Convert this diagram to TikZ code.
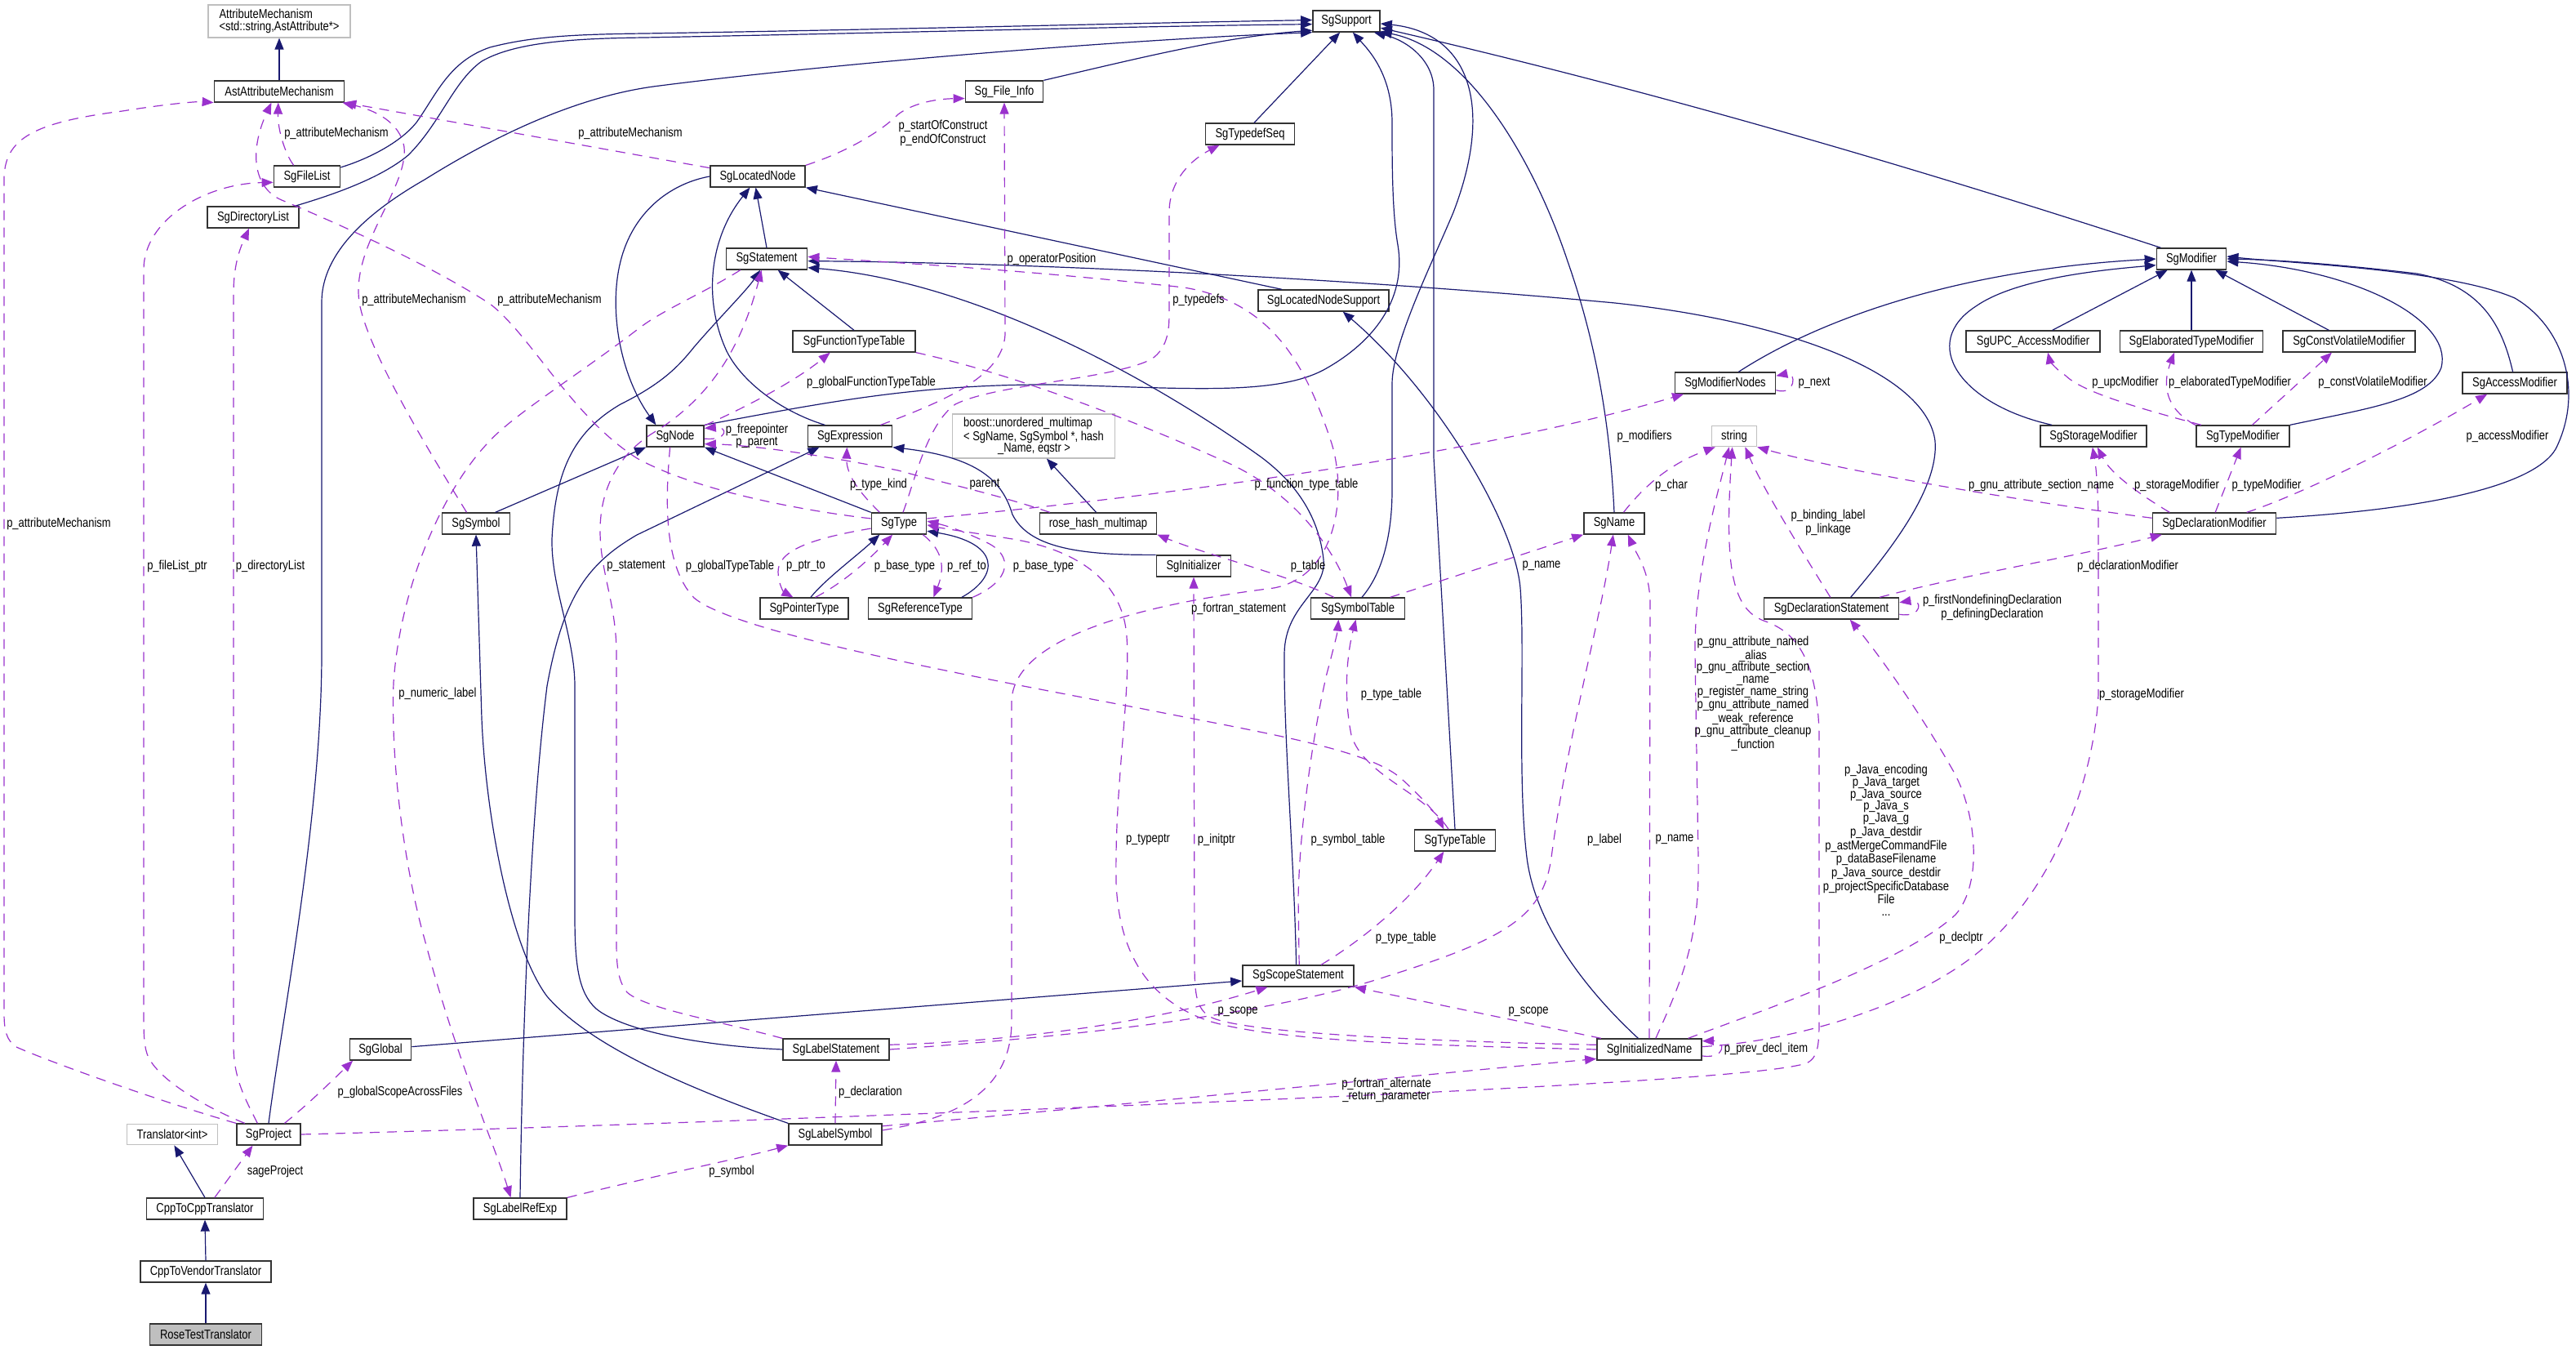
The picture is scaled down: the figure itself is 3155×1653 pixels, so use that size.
\documentclass[tikz,border=0pt]{standalone}
\usepackage{fontspec}
\usepackage{xcolor}
\usepackage{tikz}
\usetikzlibrary{arrows.meta}
\newfontfamily\graphfamily{Liberation Sans}[FakeStretch=0.82]
\newcommand{\graphfont}{\graphfamily\fontsize{7.9}{7.35}\selectfont}
\definecolor{roseInherit}{RGB}{25,25,112}
\definecolor{roseUsage}{RGB}{154,50,205}
\definecolor{roseExtern}{RGB}{191,191,191}
\definecolor{roseRootFill}{RGB}{191,191,191}
\tikzset{
  classbox/.style={rectangle, draw=black!80, fill=white, line width=0.85pt,
    minimum height=12.8pt, inner xsep=2pt, inner ysep=1pt, align=center, font=\graphfont},
  externbox/.style={classbox, draw=roseExtern, line width=0.6pt},
  rootbox/.style={classbox, fill=roseRootFill},
  edgelabel/.style={font=\graphfont, inner sep=0pt, align=center},
  inheritarrow/.style={-{Triangle[length=7pt,width=5.5pt]}, draw=roseInherit, line width=0.6pt},
  usagearrow/.style={-{Triangle[length=7pt,width=5.5pt]}, draw=roseUsage, line width=0.6pt,
    dash pattern=on 6pt off 4.5pt},
}
\begin{document}
\begin{tikzpicture}[x=0.5pt, y=-0.5pt]
  \useasboundingbox (0,0) rectangle (3155,1653);

  \node[externbox, align=left, minimum width=87pt, minimum height=20pt] (attrmech) at (342,26) {AttributeMechanism\\<std::string,AstAttribute*>};
  \node[classbox, minimum width=79.5pt] (astattr) at (342,112) {AstAttributeMechanism};
  \node[classbox, minimum width=40.5pt] (filelist) at (376,216) {SgFileList};
  \node[classbox, minimum width=56pt] (dirlist) at (310,266) {SgDirectoryList};
  \node[classbox, minimum width=41pt] (support) at (1649,26) {SgSupport};
  \node[classbox, minimum width=47.5pt] (fileinfo) at (1230,112) {Sg\_File\_Info};
  \node[classbox, minimum width=54.5pt] (typedefseq) at (1531,164) {SgTypedefSeq};
  \node[classbox, minimum width=58pt] (locnode) at (928,216) {SgLocatedNode};
  \node[classbox, minimum width=49.5pt] (statement) at (939,317) {SgStatement};
  \node[classbox, minimum width=75pt] (functypetab) at (1046,418) {SgFunctionTypeTable};
  \node[classbox, minimum width=35pt] (sgnode) at (827,534) {SgNode};
  \node[classbox, minimum width=51.5pt] (expression) at (1041,534) {SgExpression};
  \node[externbox, align=left, minimum width=99.5pt, minimum height=27pt] (boostmap) at (1266,534) {boost::unordered\_multimap\\< SgName, SgSymbol *, hash\\\hspace*{21pt}\_Name, eqstr >};
  \node[classbox, minimum width=80pt] (locsupport) at (1621,368) {SgLocatedNodeSupport};
  \node[classbox, minimum width=61.5pt] (modnodes) at (2113,469) {SgModifierNodes};
  \node[externbox, minimum width=27.5pt] (stringcls) at (2124,534) {string};
  \node[classbox, minimum width=42.5pt] (modifier) at (2684,317) {SgModifier};
  \node[classbox, minimum width=82pt] (upcmod) at (2490,418) {SgUPC\_AccessModifier};
  \node[classbox, minimum width=87.5pt] (elabmod) at (2684,418) {SgElaboratedTypeModifier};
  \node[classbox, minimum width=81pt] (cvmod) at (2877,418) {SgConstVolatileModifier};
  \node[classbox, minimum width=64pt] (accessmod) at (3080,469) {SgAccessModifier};
  \node[classbox, minimum width=65pt] (storagemod) at (2564,534) {SgStorageModifier};
  \node[classbox, minimum width=57pt] (typemod) at (2747,534) {SgTypeModifier};
  \node[classbox, minimum width=41.5pt] (symbol) at (583,641) {SgSymbol};
  \node[classbox, minimum width=33.5pt] (sgtype) at (1101,641) {SgType};
  \node[classbox, minimum width=71.5pt] (rosehash) at (1345,641) {rose\_hash\_multimap};
  \node[classbox, minimum width=45.5pt] (initializer) at (1462,693) {SgInitializer};
  \node[classbox, minimum width=54pt] (ptrtype) at (985,745) {SgPointerType};
  \node[classbox, minimum width=63.5pt] (reftype) at (1127,745) {SgReferenceType};
  \node[classbox, minimum width=37pt] (sgname) at (1977,641) {SgName};
  \node[classbox, minimum width=57.5pt] (symtab) at (1663,745) {SgSymbolTable};
  \node[classbox, minimum width=82.5pt] (declstmt) at (2243,745) {SgDeclarationStatement};
  \node[classbox, minimum width=49.5pt] (typetab) at (1782,1029) {SgTypeTable};
  \node[classbox, minimum width=75.5pt] (declmod) at (2712,641) {SgDeclarationModifier};
  \node[classbox, minimum width=37.5pt] (global) at (466,1285) {SgGlobal};
  \node[externbox, minimum width=55.5pt] (translator) at (211,1389) {Translator<int>};
  \node[classbox, minimum width=39pt] (project) at (329,1389) {SgProject};
  \node[classbox, minimum width=71.5pt] (cpp2cpp) at (251,1480) {CppToCppTranslator};
  \node[classbox, minimum width=57pt] (labelref) at (637,1480) {SgLabelRefExp};
  \node[classbox, minimum width=80pt] (cpp2vendor) at (252,1557) {CppToVendorTranslator};
  \node[rootbox, minimum width=68.5pt] (rosetest) at (252,1634) {RoseTestTranslator};
  \node[classbox, minimum width=65pt] (labelstmt) at (1024,1285) {SgLabelStatement};
  \node[classbox, minimum width=57pt] (labelsym) at (1023,1389) {SgLabelSymbol};
  \node[classbox, minimum width=68pt] (scopestmt) at (1590,1195) {SgScopeStatement};
  \node[classbox, minimum width=64pt] (initname) at (2020,1285) {SgInitializedName};

  \draw[inheritarrow] (astattr.north) -- (attrmech.south);
  \draw[inheritarrow] (filelist.15) .. controls (450,195) and (490,175) .. (510,150) .. controls (535,115) and (550,75) .. (600,58) .. controls (650,45) and (700,42) .. (790,41) .. controls (1100,36) and (1400,28) .. (support.178);
  \draw[inheritarrow] (dirlist.15) .. controls (420,235) and (470,215) .. (500,190) .. controls (540,150) and (555,100) .. (590,75) .. controls (630,52) and (700,47) .. (790,46) .. controls (1100,40) and (1400,32) .. (support.-175);
  \draw[inheritarrow] (project.north) .. controls (345,1250) and (394,1000) .. (394,800) -- (394,370) .. controls (394,310) and (450,260) .. (520,220) .. controls (600,170) and (700,120) .. (800,106) .. controls (1000,80) and (1350,50) .. (support.south west);
  \draw[inheritarrow] (fileinfo.north east) .. controls (1400,70) and (1500,45) .. (support.-165);
  \draw[inheritarrow] (typedefseq.70) -- (support.-120);
  \draw[inheritarrow] (sgnode.north east) .. controls (1000,495) and (1120,470) .. (1290,471) .. controls (1450,475) and (1560,485) .. (1621,453) .. controls (1690,415) and (1722,360) .. (1712,300) .. controls (1705,260) and (1705,200) .. (1705,150) .. controls (1705,90) and (1675,60) .. (support.-60);
  \draw[inheritarrow] (symtab.70) .. controls (1695,700) and (1705,650) .. (1705,600) -- (1705,470) .. controls (1705,420) and (1755,320) .. (1780,260) .. controls (1830,130) and (1800,40) .. (support.-4);
  \draw[inheritarrow] (typetab.north) -- (1756,560) -- (1756,110) .. controls (1756,75) and (1725,50) .. (support.-22);
  \draw[inheritarrow] (sgname.north) .. controls (1972,520) and (1955,420) .. (1920,320) .. controls (1880,200) and (1800,60) .. (support.-17);
  \draw[inheritarrow] (modifier.160) .. controls (2324,198) and (2007,107) .. (support.-11);
  \draw[inheritarrow] (statement.north) -- (locnode.-100);
  \draw[inheritarrow] (expression.156) .. controls (960,505) and (910,470) .. (890,430) .. controls (860,365) and (870,290) .. (locnode.-125);
  \draw[inheritarrow] (locsupport.165) -- (locnode.south east);
  \draw[inheritarrow] (locnode.west) .. controls (820,225) and (775,260) .. (760,320) .. controls (745,380) and (760,460) .. (sgnode.150);
  \draw[inheritarrow] (symbol.30) -- (sgnode.south west);
  \draw[inheritarrow] (sgtype.north west) -- (sgnode.south east);
  \draw[inheritarrow] (functypetab.north) -- (statement.-45);
  \draw[inheritarrow] (labelstmt.west) .. controls (850,1280) and (760,1260) .. (730,1235) .. controls (708,1215) and (704,1180) .. (704,1120) -- (704,840) .. controls (704,780) and (675,720) .. (676,660) .. controls (680,580) and (700,530) .. (760,495) .. controls (810,470) and (830,450) .. (850,425) .. controls (880,390) and (915,355) .. (statement.-120);
  \draw[inheritarrow] (scopestmt.100) .. controls (1585,1050) and (1572,900) .. (1573,800) .. controls (1574,740) and (1625,725) .. (1621,685) .. controls (1615,630) and (1585,590) .. (1545,560) .. controls (1420,470) and (1200,345) .. (statement.-12);
  \draw[inheritarrow] (declstmt.30) .. controls (2310,680) and (2375,600) .. (2370,540) .. controls (2360,460) and (2200,395) .. (1978,371) .. controls (1700,345) and (1300,322) .. (statement.-3);
  \draw[inheritarrow] (initname.135) .. controls (1940,1210) and (1880,1130) .. (1870,1050) .. controls (1858,950) and (1868,800) .. (1862,720) .. controls (1855,640) and (1760,480) .. (locsupport.-30);
  \draw[inheritarrow] (initializer.north west) .. controls (1320,680) and (1260,670) .. (1240,630) .. controls (1228,590) and (1200,560) .. (expression.south east);
  \draw[inheritarrow] (labelref.north) .. controls (640,1250) and (650,1000) .. (670,840) .. controls (690,730) and (720,690) .. (780,655) -- (expression.-160);
  \draw[inheritarrow] (ptrtype.60) .. controls (1010,710) and (1050,680) .. (sgtype.-150);
  \draw[inheritarrow] (reftype.15) .. controls (1225,705) and (1225,665) .. (sgtype.-15);
  \draw[inheritarrow] (rosehash.100) -- (boostmap.-60);
  \draw[inheritarrow] (global.5) -- (scopestmt.185);
  \draw[inheritarrow] (labelsym.north west) .. controls (880,1345) and (730,1290) .. (670,1220) .. controls (625,1160) and (595,1000) .. (590,880) -- (symbol.south);
  \draw[inheritarrow] (upcmod.30) -- (modifier.-155);
  \draw[inheritarrow] (elabmod.north) -- (modifier.south);
  \draw[inheritarrow] (cvmod.151) -- (modifier.-25);
  \draw[inheritarrow] (storagemod.165) .. controls (2400,495) and (2350,420) .. (2420,375) .. controls (2470,340) and (2580,330) .. (modifier.190);
  \draw[inheritarrow] (typemod.north east) .. controls (2900,500) and (2975,490) .. (2990,450) .. controls (3005,390) and (2880,330) .. (modifier.-4);
  \draw[inheritarrow] (accessmod.100) .. controls (3065,400) and (3040,350) .. (2960,335) .. controls (2850,322) and (2780,318) .. (modifier.east);
  \draw[inheritarrow] (declmod.5) .. controls (2950,625) and (3100,600) .. (3130,550) .. controls (3165,480) and (3140,400) .. (3080,365) .. controls (3000,330) and (2800,322) .. (modifier.4);
  \draw[inheritarrow] (modnodes.40) .. controls (2230,390) and (2400,330) .. (modifier.west);
  \draw[inheritarrow] (cpp2cpp.north) -- (translator.-80);
  \draw[inheritarrow] (cpp2vendor.north) -- (cpp2cpp.south);
  \draw[inheritarrow] (rosetest.north) -- (cpp2vendor.south);

  \draw[usagearrow] (project.north west) .. controls (200,1350) and (60,1300) .. (20,1282) .. controls (8,1274) and (5,1262) .. (5,1240) -- (5,220) .. controls (5,170) and (40,150) .. (150,136) .. controls (200,128) and (240,124) .. (astattr.south west);
  \draw[usagearrow] (project.155) .. controls (250,1355) and (190,1320) .. (180,1290) .. controls (176,1278) and (176,1262) .. (176,1240) -- (176,330) .. controls (176,270) and (250,225) .. (filelist.-170);
  \draw[usagearrow] (project.135) .. controls (300,1345) and (286,1320) .. (286,1280) -- (286,360) .. controls (286,320) and (296,300) .. (dirlist.-110);
  \draw[usagearrow] (filelist.140) .. controls (350,190) and (340,160) .. (astattr.-95);
  \draw[usagearrow] (symbol.130) .. controls (530,560) and (450,430) .. (440,370) .. controls (430,300) and (500,230) .. (495,180) .. controls (490,150) and (460,135) .. (astattr.-10);
  \draw[usagearrow] (sgtype.170) .. controls (980,625) and (850,600) .. (780,561) .. controls (700,510) and (650,410) .. (600,372) .. controls (520,320) and (400,268) .. (345,245) .. controls (310,230) and (305,185) .. (astattr.-125);
  \draw[usagearrow] (locnode.170) -- (astattr.south east);
  \draw[usagearrow] (locnode.north east) .. controls (1040,185) and (1080,160) .. (1100,140) .. controls (1120,125) and (1150,121) .. (fileinfo.-170);
  \draw[usagearrow] (expression.20) .. controls (1160,490) and (1228,460) .. (1231,410) -- (fileinfo.south);
  \draw[usagearrow] (sgtype.70) .. controls (1120,590) and (1135,520) .. (1170,495) .. controls (1220,470) and (1360,465) .. (1410,440) .. controls (1432,425) and (1432,400) .. (1432,380) -- (1432,260) .. controls (1432,220) and (1460,195) .. (typedefseq.-160);
  \draw[usagearrow] (sgnode.-5) .. controls (892,540) and (892,522) .. (sgnode.15);
  \draw[usagearrow] (rosehash.167) .. controls (1220,605) and (1150,590) .. (1100,576) .. controls (1000,556) and (920,545) .. (sgnode.-15);
  \draw[usagearrow] (sgnode.20) .. controls (900,505) and (970,470) .. (functypetab.-155);
  \draw[usagearrow] (sgnode.-115) .. controls (816,600) and (810,690) .. (850,732) .. controls (900,775) and (1200,830) .. (1400,868) .. controls (1550,898) and (1680,918) .. (1718,955) .. controls (1740,975) and (1758,995) .. (typetab.135);
  \draw[usagearrow] (functypetab.south east) .. controls (1250,460) and (1400,520) .. (1500,565) .. controls (1580,600) and (1630,665) .. (symtab.120);
  \draw[usagearrow] (labelstmt.north west) .. controls (880,1250) and (790,1235) .. (768,1215) .. controls (756,1200) and (755,1180) .. (755,1150) -- (755,800) .. controls (755,740) and (735,700) .. (735,650) .. controls (735,595) and (760,555) .. (800,530) .. controls (850,500) and (880,460) .. (897,428) .. controls (915,395) and (925,360) .. (statement.-115);
  \draw[usagearrow] (statement.-157) .. controls (860,360) and (810,380) .. (780,404) .. controls (700,465) and (625,510) .. (595,545) .. controls (540,605) and (490,720) .. (482,836) .. controls (478,950) and (500,1080) .. (520,1150) .. controls (560,1300) and (605,1400) .. (labelref.130);
  \draw[usagearrow] (sgtype.-170) .. controls (990,660) and (953,675) .. (953,700) .. controls (953,715) and (960,725) .. (ptrtype.135);
  \draw[usagearrow] (ptrtype.45) .. controls (1030,715) and (1060,690) .. (sgtype.-120);
  \draw[usagearrow] (sgtype.-25) .. controls (1150,670) and (1160,690) .. (reftype.40);
  \draw[usagearrow] (reftype.north east) .. controls (1240,710) and (1240,680) .. (1210,665) .. controls (1180,650) and (1160,644) .. (sgtype.5);
  \draw[usagearrow] (sgtype.150) .. controls (1060,610) and (1036,585) .. (expression.-105);
  \draw[usagearrow] (sgtype.10) .. controls (1400,610) and (1800,560) .. (modnodes.-165);
  \draw[usagearrow] (modnodes.-8) .. controls (2200,485) and (2200,455) .. (modnodes.8);
  \draw[usagearrow] (sgname.50) .. controls (2010,600) and (2040,570) .. (stringcls.-150);
  \draw[usagearrow] (declstmt.95) .. controls (2210,680) and (2160,600) .. (stringcls.-45);
  \draw[usagearrow] (initname.60) .. controls (2060,1200) and (2082,1150) .. (2080,1050) -- (2076,800) .. controls (2075,700) and (2105,600) .. (stringcls.-115);
  \draw[usagearrow] (project.east) .. controls (800,1378) and (1500,1350) .. (1800,1335) .. controls (2050,1322) and (2180,1312) .. (2212,1302) .. controls (2226,1296) and (2228,1282) .. (2228,1250) -- (2228,900) .. controls (2226,800) and (2195,772) .. (2160,760) .. controls (2120,745) and (2112,690) .. (stringcls.-100);
  \draw[usagearrow] (declmod.175) .. controls (2450,610) and (2250,575) .. (stringcls.south east);
  \draw[usagearrow] (declmod.166) .. controls (2620,605) and (2585,580) .. (storagemod.-70);
  \draw[usagearrow] (declmod.85) -- (typemod.-100);
  \draw[usagearrow] (declmod.19) .. controls (2820,605) and (2950,540) .. (accessmod.-158);
  \draw[usagearrow] (typemod.165) .. controls (2620,500) and (2550,480) .. (2530,460) .. controls (2515,450) and (2510,440) .. (upcmod.-37);
  \draw[usagearrow] (typemod.167) .. controls (2660,505) and (2645,480) .. (elabmod.-147);
  \draw[usagearrow] (typemod.50) -- (cvmod.-147);
  \draw[usagearrow] (declstmt.-5) .. controls (2355,757) and (2355,733) .. (declstmt.5);
  \draw[usagearrow] (declstmt.13) .. controls (2400,705) and (2550,680) .. (declmod.-168);
  \draw[usagearrow] (initname.16) .. controls (2150,1240) and (2330,1180) .. (2395,1120) .. controls (2430,1080) and (2420,990) .. (2390,940) .. controls (2350,870) and (2300,800) .. (declstmt.-31);
  \draw[usagearrow] (initname.3) .. controls (2200,1275) and (2350,1230) .. (2430,1160) .. controls (2520,1080) and (2565,950) .. (2570,850) -- (2570,650) .. controls (2570,600) and (2567,570) .. (storagemod.-95);
  \draw[usagearrow] (initname.-7) .. controls (2114,1297) and (2114,1274) .. (initname.9);
  \draw[usagearrow] (initname.167) -- (scopestmt.south east);
  \draw[usagearrow] (labelstmt.5) .. controls (1250,1275) and (1420,1250) .. (scopestmt.-160);
  \draw[usagearrow] (labelstmt.east) .. controls (1300,1270) and (1550,1245) .. (1700,1195) .. controls (1850,1148) and (1890,1120) .. (1900,1050) .. controls (1920,900) and (1960,760) .. (sgname.-95);
  \draw[usagearrow] (initname.north) -- (2021,740) .. controls (2021,700) and (2005,680) .. (sgname.-39);
  \draw[usagearrow] (symtab.19) -- (sgname.south west);
  \draw[usagearrow] (symtab.155) .. controls (1580,705) and (1480,680) .. (rosehash.south east);
  \draw[usagearrow] (typetab.120) .. controls (1745,970) and (1670,950) .. (1655,900) .. controls (1645,850) and (1650,800) .. (symtab.-100);
  \draw[usagearrow] (scopestmt.85) -- (1590,1100) .. controls (1592,1000) and (1612,880) .. (1625,825) .. controls (1633,795) and (1638,775) .. (symtab.-150);
  \draw[usagearrow] (scopestmt.26) .. controls (1670,1150) and (1730,1100) .. (typetab.-135);
  \draw[usagearrow] (labelsym.north) -- (labelstmt.south);
  \draw[usagearrow] (labelref.north east) .. controls (800,1440) and (900,1420) .. (labelsym.south west);
  \draw[usagearrow] (labelsym.10) .. controls (1300,1360) and (1700,1320) .. (initname.-170);
  \draw[usagearrow] (labelsym.5) .. controls (1180,1368) and (1239,1330) .. (1239,1250) -- (1239,860) .. controls (1239,780) and (1400,740) .. (1560,720) .. controls (1640,705) and (1650,600) .. (1630,540) .. controls (1600,450) and (1560,370) .. (1450,352) .. controls (1250,330) and (1100,322) .. (statement.3);
  \draw[usagearrow] (project.35) .. controls (380,1350) and (410,1320) .. (global.-158);
  \draw[usagearrow] (cpp2cpp.49) -- (project.-145);
  \draw[usagearrow] (initname.west) .. controls (1750,1280) and (1560,1275) .. (1480,1250) .. controls (1400,1222) and (1370,1160) .. (1367,1080) .. controls (1365,960) and (1385,850) .. (1380,780) .. controls (1375,700) and (1300,670) .. (1240,660) .. controls (1190,652) and (1160,648) .. (sgtype.-3);
  \draw[usagearrow] (initname.175) .. controls (1750,1275) and (1520,1265) .. (1482,1245) .. controls (1466,1235) and (1463,1220) .. (1463,1180) -- (initializer.south);

  \node[edgelabel] (lblprojattr) at (72,641) {p\_attributeMechanism};
  \node[edgelabel] (lblfilelist) at (217,693) {p\_fileList\_ptr};
  \node[edgelabel] (lbldirlist) at (331,693) {p\_directoryList};
  \node[edgelabel] (lblfileattr) at (412,163) {p\_attributeMechanism};
  \node[edgelabel] (lblsymattr) at (507,367) {p\_attributeMechanism};
  \node[edgelabel] (lbltypeattr) at (673,367) {p\_attributeMechanism};
  \node[edgelabel] (lbllocattr) at (772,163) {p\_attributeMechanism};
  \node[edgelabel] (lblconstruct) at (1155,163) {p\_startOfConstruct\\p\_endOfConstruct};
  \node[edgelabel] (lbloperator) at (1288,317) {p\_operatorPosition};
  \node[edgelabel] (lbltypedefs) at (1468,367) {p\_typedefs};
  \node[edgelabel] (lblnodeself) at (927,534) {p\_freepointer\\p\_parent};
  \node[edgelabel] (lblglobfunc) at (1067,468) {p\_globalFunctionTypeTable};
  \node[edgelabel] (lbltypekind) at (1076,593) {p\_type\_kind};
  \node[edgelabel] (lblparent) at (1206,593) {parent};
  \node[edgelabel] (lblfunctable) at (1600,593) {p\_function\_type\_table};
  \node[edgelabel] (lblstatement) at (779,693) {p\_statement};
  \node[edgelabel] (lblglobtype) at (894,693) {p\_globalTypeTable};
  \node[edgelabel] (lblptrto) at (987,693) {p\_ptr\_to};
  \node[edgelabel] (lblptrbase) at (1108,693) {p\_base\_type};
  \node[edgelabel] (lblrefto) at (1184,693) {p\_ref\_to};
  \node[edgelabel] (lblrefbase) at (1278,693) {p\_base\_type};
  \node[edgelabel] (lbltable) at (1602,693) {p\_table};
  \node[edgelabel] (lblfortran) at (1517,745) {p\_fortran\_statement};
  \node[edgelabel] (lblsymname) at (1888,693) {p\_name};
  \node[edgelabel] (lblchar) at (2047,594) {p\_char};
  \node[edgelabel] (lblmodifiers) at (2014,534) {p\_modifiers};
  \node[edgelabel] (lblnext) at (2222,469) {p\_next};
  \node[edgelabel] (lblbinding) at (2239,640) {p\_binding\_label\\p\_linkage};
  \node[edgelabel] (lblgnu) at (2147,849) {p\_gnu\_attribute\_named\\\_alias\\p\_gnu\_attribute\_section\\\_name\\p\_register\_name\_string\\p\_gnu\_attribute\_named\\\_weak\_reference\\p\_gnu\_attribute\_cleanup\\\_function};
  \node[edgelabel] (lbljava) at (2310,1029) {p\_Java\_encoding\\p\_Java\_target\\p\_Java\_source\\p\_Java\_s\\p\_Java\_g\\p\_Java\_destdir\\p\_astMergeCommandFile\\p\_dataBaseFilename\\p\_Java\_source\_destdir\\p\_projectSpecificDatabase\\File\\...};
  \node[edgelabel] (lblsection) at (2500,594) {p\_gnu\_attribute\_section\_name};
  \node[edgelabel] (lbldeclstorage) at (2666,594) {p\_storageModifier};
  \node[edgelabel] (lbltypemod) at (2776,594) {p\_typeModifier};
  \node[edgelabel] (lblaccess) at (3071,534) {p\_accessModifier};
  \node[edgelabel] (lblupc) at (2603,468) {p\_upcModifier};
  \node[edgelabel] (lblelab) at (2731,468) {p\_elaboratedTypeModifier};
  \node[edgelabel] (lblcv) at (2906,468) {p\_constVolatileModifier};
  \node[edgelabel] (lbldeclmod) at (2606,693) {p\_declarationModifier};
  \node[edgelabel] (lbldeclself) at (2440,744) {p\_firstNondefiningDeclaration\\p\_definingDeclaration};
  \node[edgelabel] (lblnamestorage) at (2623,850) {p\_storageModifier};
  \node[edgelabel] (lbltabletype) at (1704,850) {p\_type\_table};
  \node[edgelabel] (lblnumeric) at (536,849) {p\_numeric\_label};
  \node[edgelabel] (lblsymtable) at (1651,1028) {p\_symbol\_table};
  \node[edgelabel] (lbltypeptr) at (1406,1028) {p\_typeptr};
  \node[edgelabel] (lblinitptr) at (1490,1028) {p\_initptr};
  \node[edgelabel] (lbllabel) at (1965,1028) {p\_label};
  \node[edgelabel] (lblinitname) at (2051,1028) {p\_name};
  \node[edgelabel] (lbldeclptr) at (2402,1148) {p\_declptr};
  \node[edgelabel] (lblscopetype) at (1722,1148) {p\_type\_table};
  \node[edgelabel] (lbllabelscope) at (1516,1239) {p\_scope};
  \node[edgelabel] (lblnamescope) at (1872,1239) {p\_scope};
  \node[edgelabel] (lblprevdecl) at (2163,1284) {p\_prev\_decl\_item};
  \node[edgelabel] (lblalternate) at (1698,1335) {p\_fortran\_alternate\\\_return\_parameter};
  \node[edgelabel] (lblglobscope) at (490,1337) {p\_globalScopeAcrossFiles};
  \node[edgelabel] (lbldeclaration) at (1066,1337) {p\_declaration};
  \node[edgelabel] (lblsage) at (337,1434) {sageProject};
  \node[edgelabel] (lblsymbol) at (896,1434) {p\_symbol};
\end{tikzpicture}
\end{document}
